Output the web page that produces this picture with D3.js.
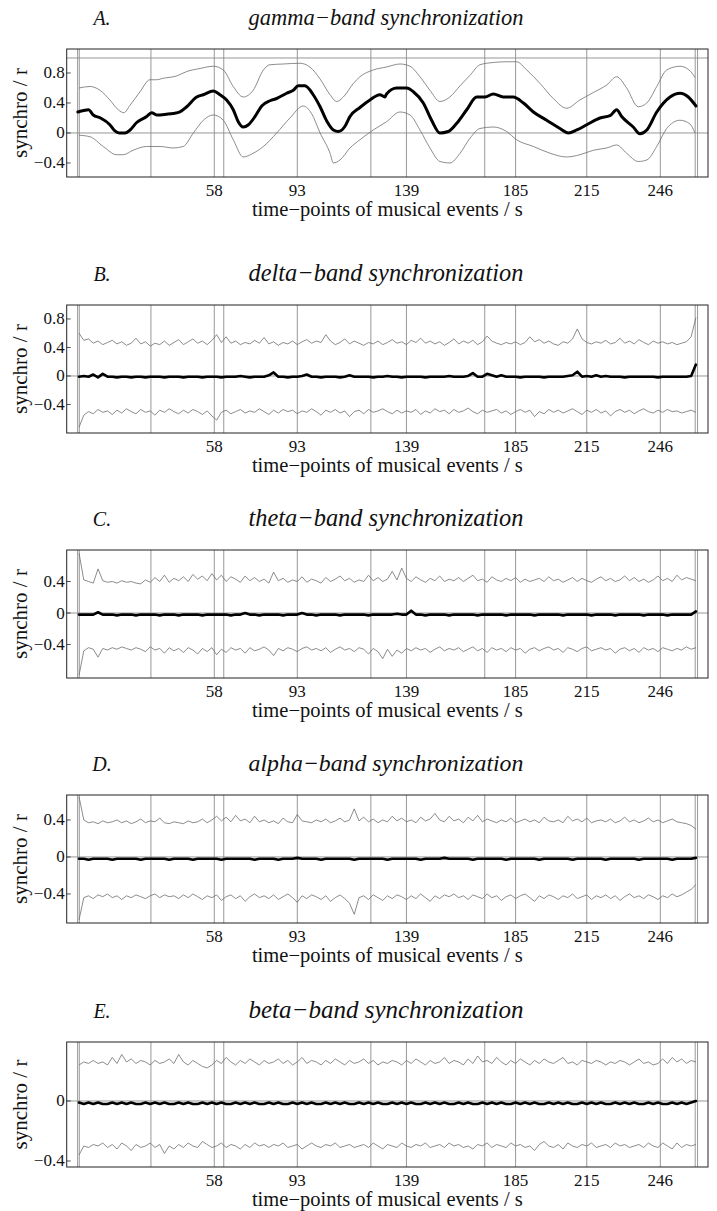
<!DOCTYPE html>
<html><head><meta charset="utf-8">
<script src="https://cdn.jsdelivr.net/npm/d3@7"></script>
<style>
body{margin:0;background:#fff}
svg{display:block}
text{font-family:"Liberation Serif","Times New Roman",serif;fill:#111}
</style>
</head><body>
<svg id="chart" width="717" height="1211"></svg>
<script>
// ---------------- DATA ----------------
const xTickValues = [58, 93, 139, 185, 215, 246];
const xTickLabels = ["58", "93", "139", "185", "215", "246"];
const eventTimes = [0.4, 1.1, 31.3, 58, 62, 93, 124, 139, 172, 185, 215, 246, 260.7, 261.7];

const panelLetters = ["A.", "B.", "C.", "D.", "E."];
const panelTitles = ["gamma\u2212band synchronization", "delta\u2212band synchronization",
  "theta\u2212band synchronization", "alpha\u2212band synchronization", "beta\u2212band synchronization"];
const xAxisLabel = "time\u2212points of musical events / s";
const yAxisLabel = "synchro / r";

const yTicksA = [-0.4, 0, 0.4, 0.8];
const yTicksB = [-0.4, 0, 0.4, 0.8];
const yTicksC = [-0.4, 0, 0.4];
const yTicksD = [-0.4, 0, 0.4];
const yTicksE = [-0.4, 0];

// gamma band: [time, r] readings
const gammaMean = [[0.5,0.28],[3,0.30],[5,0.31],[7,0.24],[10,0.20],[14,0.11],[16,0.03],[18,0.0],[20.4,0.0],[22.5,0.04],[25.3,0.14],[29.5,0.22],[31.6,0.27],[33.7,0.24],[37.9,0.25],[40.7,0.26],[43.5,0.28],[46.4,0.35],[50.6,0.48],[53.4,0.51],[57.6,0.56],[60.4,0.51],[63.2,0.44],[66,0.31],[68.1,0.15],[70.2,0.08],[72.4,0.11],[75.2,0.22],[78,0.36],[81.5,0.43],[84.3,0.46],[88.5,0.53],[91.3,0.57],[93.4,0.63],[96.2,0.63],[99.7,0.51],[102.6,0.35],[105.4,0.16],[108.2,0.04],[110.3,0.02],[113.1,0.09],[115.2,0.22],[119.4,0.34],[123.6,0.44],[127.8,0.51],[129.9,0.48],[130.6,0.52],[134.9,0.60],[139.1,0.60],[141.9,0.55],[146.1,0.40],[149.6,0.17],[153.1,0.0],[156.6,0.02],[160.2,0.13],[164.4,0.31],[168.6,0.48],[172.1,0.48],[175.6,0.52],[179.8,0.48],[184,0.48],[188.3,0.40],[192.5,0.28],[198.1,0.17],[203.7,0.06],[207.2,0.0],[210.8,0.04],[215,0.11],[220.6,0.20],[224.8,0.23],[227.6,0.31],[229.7,0.22],[234.6,0.08],[237.4,-0.01],[240.3,0.04],[244.5,0.28],[250.1,0.48],[254.3,0.53],[257.8,0.48],[261,0.36]];
const gammaUpper = [[1,0.60],[5.6,0.62],[9.8,0.57],[14,0.44],[17.5,0.31],[19.9,0.27],[22.5,0.37],[26.7,0.55],[30.9,0.71],[33.7,0.71],[36.5,0.73],[42.1,0.76],[46.4,0.82],[52,0.86],[57.6,0.89],[61.8,0.84],[66,0.62],[70.2,0.48],[74.4,0.57],[78.7,0.84],[81.5,0.91],[87.1,0.92],[94.1,0.93],[98.3,0.88],[102.6,0.72],[106.8,0.51],[109.6,0.42],[112.4,0.48],[116.6,0.66],[119.4,0.75],[125,0.84],[130.6,0.88],[136.3,0.92],[140.5,0.89],[144.7,0.75],[148.9,0.57],[153.1,0.42],[157.3,0.48],[161.6,0.63],[165.8,0.77],[170,0.91],[175.6,0.94],[181.2,0.95],[185.4,0.95],[189.7,0.84],[195.3,0.66],[200.9,0.46],[206.5,0.33],[212.1,0.44],[217.8,0.54],[223.4,0.64],[227.6,0.75],[231.8,0.60],[236.7,0.35],[240.3,0.40],[244.5,0.62],[248.7,0.84],[254.3,0.89],[258.5,0.83],[260.6,0.74]];
const gammaLower = [[1,-0.03],[5.6,-0.05],[11.2,-0.18],[16.8,-0.29],[19.6,-0.29],[23.8,-0.23],[29.5,-0.18],[35.1,-0.18],[40.7,-0.20],[44.9,-0.18],[49.2,0.0],[53.4,0.17],[57.6,0.24],[61.8,0.17],[66,-0.09],[70.2,-0.32],[74.4,-0.27],[78.7,-0.18],[84.3,0.0],[89.9,0.20],[95.5,0.36],[99,0.26],[102.6,0.0],[106.8,-0.27],[108.2,-0.40],[111,-0.36],[115.2,-0.20],[119.4,-0.09],[125,0.04],[130.6,0.15],[136.3,0.28],[140.5,0.24],[144.7,0.04],[148.9,-0.20],[153.1,-0.38],[157.3,-0.40],[161.6,-0.27],[165.8,-0.07],[170,0.06],[175.6,0.08],[181.2,0.02],[185.4,-0.09],[192.5,-0.18],[199.5,-0.27],[206.5,-0.32],[212.1,-0.29],[217.8,-0.23],[223.4,-0.20],[227.6,-0.16],[231.8,-0.27],[236.7,-0.38],[240.3,-0.36],[244.5,-0.18],[248.7,0.06],[254.3,0.17],[258.5,0.12],[260.6,0.0]];

// other bands: one value every sampleStep seconds starting at sampleStart
const sampleStart = 1, sampleStep = 2;

const deltaUpper = [0.60,0.50,0.52,0.46,0.49,0.44,0.47,0.50,0.45,0.48,
0.43,0.46,0.53,0.45,0.48,0.42,0.46,0.44,0.49,0.43,
0.47,0.51,0.44,0.48,0.52,0.46,0.49,0.44,0.50,0.58,
0.47,0.55,0.46,0.49,0.44,0.47,0.45,0.50,0.46,0.54,
0.45,0.48,0.43,0.47,0.45,0.49,0.44,0.48,0.51,0.46,
0.49,0.47,0.58,0.49,0.44,0.47,0.52,0.45,0.49,0.46,
0.43,0.47,0.45,0.49,0.44,0.47,0.51,0.46,0.48,0.44,
0.50,0.47,0.53,0.46,0.49,0.45,0.48,0.43,0.47,0.52,
0.45,0.49,0.46,0.50,0.44,0.48,0.56,0.49,0.46,0.44,
0.47,0.45,0.48,0.44,0.47,0.55,0.48,0.51,0.46,0.49,
0.45,0.43,0.48,0.46,0.52,0.66,0.52,0.47,0.45,0.48,
0.46,0.50,0.45,0.47,0.53,0.46,0.49,0.45,0.51,0.47,
0.44,0.49,0.46,0.48,0.45,0.47,0.44,0.46,0.48,0.55,0.82];
const deltaLower = [-0.72,-0.55,-0.50,-0.53,-0.47,-0.51,-0.49,-0.54,-0.48,-0.52,
-0.46,-0.50,-0.53,-0.47,-0.51,-0.49,-0.55,-0.48,-0.51,-0.46,
-0.50,-0.53,-0.48,-0.52,-0.47,-0.50,-0.54,-0.49,-0.56,-0.62,
-0.51,-0.48,-0.53,-0.50,-0.47,-0.52,-0.49,-0.51,-0.46,-0.50,
-0.54,-0.48,-0.52,-0.47,-0.50,-0.48,-0.53,-0.49,-0.51,-0.46,
-0.50,-0.55,-0.48,-0.51,-0.47,-0.52,-0.49,-0.57,-0.50,-0.48,
-0.53,-0.47,-0.51,-0.49,-0.46,-0.50,-0.53,-0.48,-0.52,-0.49,
-0.51,-0.47,-0.54,-0.49,-0.52,-0.46,-0.50,-0.48,-0.53,-0.47,
-0.51,-0.49,-0.45,-0.50,-0.53,-0.48,-0.51,-0.49,-0.47,-0.52,
-0.49,-0.54,-0.50,-0.47,-0.51,-0.48,-0.57,-0.50,-0.53,-0.47,
-0.51,-0.48,-0.52,-0.49,-0.46,-0.50,-0.54,-0.48,-0.51,-0.47,
-0.52,-0.49,-0.56,-0.50,-0.47,-0.51,-0.48,-0.53,-0.49,-0.46,
-0.50,-0.52,-0.48,-0.51,-0.47,-0.50,-0.49,-0.52,-0.50,-0.48,-0.51];
const deltaMean = [-0.01,0.00,-0.01,0.02,-0.02,0.03,-0.01,-0.01,-0.02,-0.01,
-0.01,-0.02,-0.01,-0.01,-0.02,-0.01,-0.01,-0.01,-0.02,-0.01,
-0.01,-0.01,-0.02,-0.01,-0.01,-0.01,-0.02,-0.01,-0.01,-0.01,
-0.02,-0.01,-0.01,-0.01,0.00,-0.01,-0.02,-0.01,-0.01,-0.01,
0.01,0.05,-0.01,-0.01,-0.02,-0.01,-0.01,0.00,0.02,-0.01,
-0.01,-0.02,-0.01,-0.01,-0.01,-0.02,-0.01,0.01,-0.01,-0.01,
-0.01,-0.01,-0.02,-0.01,-0.01,0.00,-0.01,-0.01,-0.02,-0.01,
-0.01,-0.01,-0.01,-0.02,-0.01,-0.01,-0.01,-0.01,0.00,-0.01,
-0.01,-0.01,0.00,0.04,-0.01,-0.01,0.03,0.01,-0.01,0.01,
-0.01,-0.01,-0.01,-0.02,-0.01,-0.01,-0.01,-0.01,-0.02,-0.01,
-0.01,-0.01,-0.01,0.00,0.01,0.06,-0.01,0.00,-0.01,0.01,
-0.01,0.00,-0.01,-0.01,-0.01,-0.02,-0.01,-0.01,-0.01,-0.01,
-0.01,-0.01,-0.02,-0.01,-0.01,-0.01,-0.01,-0.01,-0.01,0.00,0.16];

const thetaUpper = [0.76,0.42,0.40,0.38,0.56,0.41,0.39,0.40,0.38,0.41,
0.39,0.40,0.38,0.37,0.42,0.39,0.45,0.40,0.48,0.39,
0.44,0.41,0.46,0.40,0.49,0.43,0.47,0.41,0.50,0.42,
0.48,0.40,0.46,0.43,0.39,0.47,0.41,0.45,0.40,0.43,
0.38,0.52,0.41,0.44,0.39,0.42,0.40,0.46,0.39,0.43,
0.41,0.38,0.45,0.40,0.43,0.47,0.41,0.44,0.39,0.42,
0.40,0.48,0.41,0.45,0.40,0.43,0.53,0.42,0.57,0.44,
0.40,0.46,0.42,0.39,0.44,0.41,0.47,0.40,0.43,0.41,
0.45,0.40,0.44,0.48,0.41,0.43,0.39,0.46,0.42,0.40,
0.44,0.41,0.45,0.39,0.43,0.40,0.42,0.44,0.40,0.46,
0.41,0.43,0.39,0.42,0.45,0.40,0.44,0.41,0.39,0.43,
0.46,0.41,0.44,0.40,0.42,0.47,0.41,0.45,0.40,0.43,
0.39,0.42,0.47,0.41,0.44,0.40,0.48,0.42,0.45,0.43,0.41];
const thetaLower = [-0.79,-0.48,-0.44,-0.46,-0.56,-0.45,-0.47,-0.44,-0.46,-0.43,
-0.45,-0.47,-0.44,-0.46,-0.49,-0.43,-0.47,-0.45,-0.51,-0.44,
-0.48,-0.45,-0.50,-0.44,-0.47,-0.52,-0.45,-0.49,-0.44,-0.53,
-0.46,-0.50,-0.44,-0.47,-0.45,-0.51,-0.44,-0.48,-0.46,-0.43,
-0.47,-0.54,-0.45,-0.48,-0.44,-0.46,-0.49,-0.45,-0.43,-0.47,
-0.45,-0.48,-0.44,-0.50,-0.46,-0.43,-0.47,-0.45,-0.49,-0.44,
-0.46,-0.52,-0.45,-0.49,-0.58,-0.46,-0.55,-0.47,-0.51,-0.45,
-0.48,-0.44,-0.47,-0.45,-0.50,-0.46,-0.43,-0.48,-0.45,-0.47,
-0.44,-0.49,-0.46,-0.43,-0.48,-0.45,-0.50,-0.44,-0.47,-0.45,
-0.49,-0.44,-0.47,-0.45,-0.51,-0.46,-0.44,-0.48,-0.45,-0.43,
-0.47,-0.45,-0.50,-0.44,-0.46,-0.49,-0.45,-0.43,-0.48,-0.46,
-0.44,-0.47,-0.45,-0.51,-0.46,-0.44,-0.48,-0.45,-0.50,-0.44,
-0.47,-0.45,-0.49,-0.44,-0.46,-0.48,-0.45,-0.47,-0.43,-0.46,-0.44];
const thetaMean = [-0.02,-0.02,-0.02,-0.02,0.01,-0.02,-0.02,-0.02,-0.03,-0.02,
-0.02,-0.02,-0.03,-0.02,-0.02,-0.02,-0.02,-0.03,-0.02,-0.02,
-0.02,-0.03,-0.02,-0.02,-0.02,-0.02,-0.03,-0.02,-0.02,-0.02,
-0.02,-0.02,-0.03,-0.02,-0.02,0.00,-0.02,-0.02,-0.03,-0.02,
-0.02,-0.02,-0.02,-0.03,-0.02,-0.02,-0.02,0.00,-0.02,-0.02,
-0.03,-0.02,-0.02,-0.02,-0.02,-0.03,-0.02,-0.02,-0.02,-0.02,
-0.02,-0.03,-0.02,-0.02,-0.02,-0.02,-0.02,-0.01,-0.02,-0.02,
0.03,-0.02,-0.02,-0.03,-0.02,-0.02,-0.02,-0.02,-0.03,-0.02,
-0.02,-0.02,-0.02,-0.02,-0.03,-0.02,-0.02,-0.02,-0.02,-0.02,
-0.03,-0.02,-0.02,-0.02,-0.02,-0.02,-0.03,-0.02,-0.02,-0.02,
-0.02,-0.02,-0.03,-0.02,-0.02,-0.02,-0.02,-0.02,-0.03,-0.02,
-0.02,-0.02,-0.02,-0.03,-0.02,-0.02,-0.02,-0.02,-0.02,-0.03,
-0.02,-0.02,-0.02,-0.02,-0.03,-0.02,-0.02,-0.02,-0.02,-0.02,0.02];

const alphaUpper = [0.65,0.40,0.37,0.38,0.36,0.39,0.37,0.38,0.40,0.37,
0.39,0.36,0.38,0.41,0.37,0.39,0.38,0.42,0.37,0.36,
0.38,0.37,0.36,0.39,0.37,0.38,0.41,0.37,0.40,0.44,
0.39,0.43,0.38,0.45,0.39,0.41,0.37,0.44,0.38,0.40,
0.37,0.39,0.36,0.42,0.38,0.37,0.46,0.39,0.38,0.37,
0.40,0.38,0.41,0.37,0.39,0.42,0.38,0.40,0.52,0.39,
0.43,0.38,0.41,0.37,0.40,0.38,0.44,0.39,0.42,0.38,
0.40,0.37,0.43,0.39,0.41,0.47,0.40,0.38,0.44,0.39,
0.41,0.37,0.43,0.39,0.45,0.38,0.41,0.39,0.37,0.40,
0.38,0.42,0.37,0.39,0.41,0.38,0.40,0.37,0.43,0.39,
0.38,0.40,0.37,0.44,0.39,0.41,0.38,0.42,0.37,0.39,
0.40,0.38,0.41,0.37,0.39,0.43,0.38,0.40,0.37,0.39,
0.42,0.38,0.40,0.37,0.39,0.41,0.38,0.37,0.36,0.34,0.30];
const alphaLower = [-0.68,-0.44,-0.42,-0.45,-0.41,-0.43,-0.40,-0.44,-0.42,-0.46,
-0.42,-0.44,-0.41,-0.43,-0.45,-0.42,-0.40,-0.44,-0.41,-0.43,
-0.42,-0.45,-0.41,-0.44,-0.40,-0.43,-0.46,-0.42,-0.44,-0.41,
-0.47,-0.43,-0.41,-0.45,-0.42,-0.48,-0.43,-0.40,-0.44,-0.42,
-0.45,-0.41,-0.46,-0.43,-0.40,-0.44,-0.49,-0.42,-0.45,-0.41,
-0.43,-0.46,-0.42,-0.48,-0.44,-0.41,-0.45,-0.50,-0.62,-0.44,
-0.42,-0.46,-0.41,-0.44,-0.47,-0.42,-0.45,-0.41,-0.43,-0.46,
-0.42,-0.45,-0.40,-0.44,-0.48,-0.42,-0.45,-0.41,-0.43,-0.40,
-0.44,-0.42,-0.46,-0.41,-0.43,-0.45,-0.40,-0.44,-0.42,-0.47,
-0.43,-0.41,-0.45,-0.42,-0.40,-0.44,-0.48,-0.42,-0.45,-0.41,
-0.43,-0.46,-0.42,-0.44,-0.40,-0.45,-0.43,-0.41,-0.46,-0.42,
-0.44,-0.41,-0.45,-0.42,-0.47,-0.43,-0.40,-0.44,-0.42,-0.45,
-0.41,-0.43,-0.46,-0.42,-0.44,-0.40,-0.43,-0.41,-0.38,-0.35,-0.30];
const alphaMean = [-0.02,-0.02,-0.03,-0.02,-0.02,-0.02,-0.02,-0.03,-0.02,-0.02,
-0.02,-0.02,-0.02,-0.03,-0.02,-0.02,-0.02,-0.02,-0.02,-0.03,
-0.02,-0.02,-0.02,-0.02,-0.03,-0.02,-0.02,-0.02,-0.02,-0.02,
-0.03,-0.02,-0.02,-0.02,-0.02,-0.02,-0.02,-0.03,-0.02,-0.02,
-0.02,-0.02,-0.03,-0.02,-0.02,-0.02,-0.01,-0.02,-0.02,-0.02,
-0.02,-0.03,-0.02,-0.02,-0.02,-0.02,-0.02,-0.02,-0.03,-0.02,
-0.02,-0.02,-0.02,-0.02,-0.02,-0.03,-0.02,-0.02,-0.02,-0.02,
-0.02,-0.02,-0.03,-0.02,-0.02,-0.02,-0.02,-0.01,-0.02,-0.02,
-0.02,-0.02,-0.02,-0.03,-0.02,-0.02,-0.02,-0.02,-0.02,-0.02,
-0.03,-0.02,-0.02,-0.02,-0.02,-0.02,-0.02,-0.03,-0.02,-0.02,
-0.02,-0.02,-0.02,-0.02,-0.03,-0.02,-0.02,-0.02,-0.02,-0.02,
-0.02,-0.03,-0.02,-0.02,-0.02,-0.02,-0.02,-0.02,-0.03,-0.02,
-0.02,-0.02,-0.02,-0.02,-0.02,-0.03,-0.02,-0.02,-0.02,-0.02,-0.01];

const betaUpper = [0.24,0.26,0.25,0.27,0.25,0.26,0.24,0.29,0.25,0.31,
0.26,0.28,0.25,0.27,0.26,0.24,0.27,0.25,0.26,0.28,
0.25,0.31,0.26,0.24,0.27,0.25,0.23,0.22,0.24,0.27,
0.25,0.29,0.26,0.24,0.27,0.25,0.28,0.26,0.24,0.27,
0.25,0.26,0.28,0.25,0.27,0.24,0.26,0.29,0.25,0.27,
0.26,0.24,0.27,0.25,0.28,0.26,0.24,0.27,0.25,0.26,
0.28,0.25,0.27,0.24,0.26,0.25,0.27,0.26,0.24,0.27,
0.25,0.28,0.26,0.24,0.27,0.25,0.26,0.29,0.25,0.27,
0.26,0.24,0.28,0.25,0.30,0.26,0.27,0.25,0.29,0.26,
0.24,0.27,0.25,0.28,0.26,0.24,0.27,0.25,0.28,0.26,
0.25,0.27,0.29,0.25,0.26,0.24,0.27,0.26,0.25,0.27,
0.26,0.24,0.26,0.25,0.27,0.26,0.24,0.26,0.28,0.25,
0.26,0.24,0.25,0.28,0.25,0.29,0.26,0.28,0.25,0.27,0.26];
const betaLower = [-0.36,-0.30,-0.31,-0.29,-0.30,-0.28,-0.31,-0.29,-0.32,-0.28,
-0.30,-0.33,-0.29,-0.31,-0.30,-0.28,-0.31,-0.29,-0.35,-0.30,
-0.32,-0.29,-0.31,-0.28,-0.30,-0.31,-0.27,-0.29,-0.31,-0.30,
-0.28,-0.31,-0.29,-0.30,-0.32,-0.29,-0.31,-0.28,-0.30,-0.29,
-0.31,-0.29,-0.30,-0.28,-0.31,-0.30,-0.29,-0.32,-0.30,-0.28,
-0.30,-0.31,-0.29,-0.30,-0.28,-0.31,-0.30,-0.29,-0.31,-0.30,
-0.29,-0.31,-0.28,-0.30,-0.32,-0.29,-0.30,-0.31,-0.28,-0.30,
-0.31,-0.29,-0.30,-0.28,-0.31,-0.30,-0.29,-0.31,-0.28,-0.30,
-0.29,-0.31,-0.30,-0.32,-0.29,-0.30,-0.28,-0.31,-0.29,-0.30,
-0.31,-0.28,-0.30,-0.29,-0.31,-0.30,-0.33,-0.29,-0.27,-0.30,
-0.31,-0.29,-0.32,-0.28,-0.30,-0.31,-0.29,-0.30,-0.28,-0.31,
-0.30,-0.29,-0.31,-0.28,-0.30,-0.29,-0.31,-0.30,-0.29,-0.31,
-0.28,-0.30,-0.31,-0.28,-0.30,-0.32,-0.28,-0.31,-0.29,-0.30,-0.29];
const betaMean = [-0.01,-0.02,-0.01,-0.02,-0.01,-0.02,-0.02,-0.01,-0.02,-0.01,
-0.02,-0.01,-0.02,-0.02,-0.01,-0.02,-0.01,-0.02,-0.01,-0.02,
-0.02,-0.01,-0.02,-0.01,-0.02,-0.02,-0.01,-0.02,-0.01,-0.02,
-0.01,-0.02,-0.02,-0.01,-0.02,-0.01,-0.02,-0.01,-0.02,-0.02,
-0.01,-0.02,-0.01,-0.02,-0.02,-0.01,-0.02,-0.01,-0.02,-0.01,
-0.02,-0.02,-0.01,-0.02,-0.01,-0.02,-0.01,-0.02,-0.02,-0.01,
-0.02,-0.01,-0.02,-0.01,-0.02,-0.02,-0.01,-0.02,-0.01,-0.02,
-0.01,-0.02,-0.02,-0.01,-0.02,-0.01,-0.02,-0.01,-0.02,-0.02,
-0.01,-0.02,-0.01,-0.02,-0.02,-0.01,-0.02,-0.01,-0.02,-0.01,
-0.02,-0.02,-0.01,-0.02,-0.01,-0.02,-0.01,-0.02,-0.02,-0.01,
-0.02,-0.01,-0.02,-0.01,-0.02,-0.02,-0.01,-0.02,-0.01,-0.02,
-0.01,-0.02,-0.02,-0.01,-0.02,-0.01,-0.02,-0.01,-0.02,-0.02,
-0.01,-0.02,-0.01,-0.02,-0.02,-0.01,-0.02,-0.01,-0.02,-0.01,0.00];

// ---------------- LAYOUT ----------------
const frameLeft = 66.7, frameRight = 708;
const xDomain = [-4.2, 266.1];

const toPairs = arr => arr.map((v, i) => [sampleStart + i * sampleStep, v]);

const panels = [
  {top: 49,   bottom: 177,  yDomain: [-0.587, 1.12], yTicks: yTicksA, hGrid: [0, 1],
   mean: gammaMean, upper: gammaUpper, lower: gammaLower, meanWidth: 3, curve: d3.curveMonotoneX},
  {top: 305,  bottom: 433,  yDomain: [-0.80, 0.996], yTicks: yTicksB, hGrid: [0],
   mean: toPairs(deltaMean), upper: toPairs(deltaUpper), lower: toPairs(deltaLower), meanWidth: 2.6, curve: d3.curveLinear},
  {top: 550,  bottom: 678,  yDomain: [-0.825, 0.80], yTicks: yTicksC, hGrid: [0],
   mean: toPairs(thetaMean), upper: toPairs(thetaUpper), lower: toPairs(thetaLower), meanWidth: 2.6, curve: d3.curveLinear},
  {top: 795,  bottom: 923,  yDomain: [-0.714, 0.67], yTicks: yTicksD, hGrid: [0],
   mean: toPairs(alphaMean), upper: toPairs(alphaUpper), lower: toPairs(alphaLower), meanWidth: 2.6, curve: d3.curveLinear},
  {top: 1042, bottom: 1167, yDomain: [-0.44, 0.393], yTicks: yTicksE, hGrid: [0],
   mean: toPairs(betaMean), upper: toPairs(betaUpper), lower: toPairs(betaLower), meanWidth: 2.6, curve: d3.curveLinear}
];

const svg = d3.select("#chart");
const x = d3.scaleLinear().domain(xDomain).range([frameLeft, frameRight]);
const fmt = v => v === 0 ? "0" : (v < 0 ? "\u2212" : "") + Math.abs(v).toFixed(1);

function fitText(sel, target, base) {
  sel.attr("font-size", base);
  const len = sel.node().getComputedTextLength();
  if (len > 0) sel.attr("font-size", base * target / len);
}

panels.forEach((p, k) => {
  const y = d3.scaleLinear().domain(p.yDomain).range([p.bottom, p.top]);
  const g = svg.append("g");
  const clipId = "clip" + k;
  svg.append("clipPath").attr("id", clipId).append("rect")
    .attr("x", frameLeft).attr("y", p.top)
    .attr("width", frameRight - frameLeft).attr("height", p.bottom - p.top);

  // vertical grid lines at event times
  g.append("g").selectAll("line").data(eventTimes).join("line")
    .attr("x1", d => x(d)).attr("x2", d => x(d))
    .attr("y1", p.top).attr("y2", p.bottom)
    .attr("stroke", "#8c8c8c").attr("stroke-width", 0.9);
  // horizontal grid lines
  g.append("g").selectAll("line").data(p.hGrid).join("line")
    .attr("x1", frameLeft).attr("x2", frameRight)
    .attr("y1", d => y(d)).attr("y2", d => y(d))
    .attr("stroke", "#8c8c8c").attr("stroke-width", 0.9);

  const line = d3.line().x(d => x(d[0])).y(d => y(d[1])).curve(p.curve);
  const plot = g.append("g").attr("clip-path", `url(#${clipId})`);
  plot.append("path").attr("d", line(p.upper)).attr("fill", "none")
    .attr("stroke", "#6e6e6e").attr("stroke-width", 0.8);
  plot.append("path").attr("d", line(p.lower)).attr("fill", "none")
    .attr("stroke", "#6e6e6e").attr("stroke-width", 0.8);
  plot.append("path").attr("d", line(p.mean)).attr("fill", "none")
    .attr("stroke", "#000").attr("stroke-width", p.meanWidth)
    .attr("stroke-linejoin", "round").attr("stroke-linecap", "round");

  // frame
  g.append("rect").attr("x", frameLeft).attr("y", p.top)
    .attr("width", frameRight - frameLeft).attr("height", p.bottom - p.top)
    .attr("fill", "none").attr("stroke", "#222").attr("stroke-width", 1);

  // y ticks + labels
  const yt = g.append("g").selectAll("g").data(p.yTicks).join("g");
  yt.append("line").attr("x1", frameLeft).attr("x2", frameLeft + 4)
    .attr("y1", d => y(d)).attr("y2", d => y(d)).attr("stroke", "#222").attr("stroke-width", 0.8);
  yt.append("text").attr("x", frameLeft - 2).attr("y", d => y(d))
    .attr("text-anchor", "end").attr("dominant-baseline", "central")
    .attr("font-size", 17).text(d => fmt(d));

  // x tick labels
  g.append("g").selectAll("text").data(xTickValues).join("text")
    .attr("x", d => x(d)).attr("y", p.bottom + 19)
    .attr("text-anchor", "middle").attr("font-size", 17)
    .text((d, i) => xTickLabels[i]);

  // x axis label
  const xl = g.append("text").attr("x", (frameLeft + frameRight) / 2).attr("y", p.bottom + 39)
    .attr("text-anchor", "middle").text(xAxisLabel);
  fitText(xl, 271, 19);

  // y axis label
  const yl = g.append("text")
    .attr("transform", `translate(27,${(p.top + p.bottom) / 2}) rotate(-90)`)
    .attr("text-anchor", "middle").text(yAxisLabel);
  fitText(yl, 90, 19);

  // panel title
  g.append("text").attr("x", 102).attr("y", p.top - 24.5)
    .attr("text-anchor", "middle").attr("font-style", "italic").attr("font-size", 20)
    .text(panelLetters[k]);
  const tt = g.append("text").attr("x", 386).attr("y", p.top - 24.5)
    .attr("text-anchor", "middle").attr("font-style", "italic").text(panelTitles[k]);
  fitText(tt, 275, 20);
});
</script>
</body></html>
